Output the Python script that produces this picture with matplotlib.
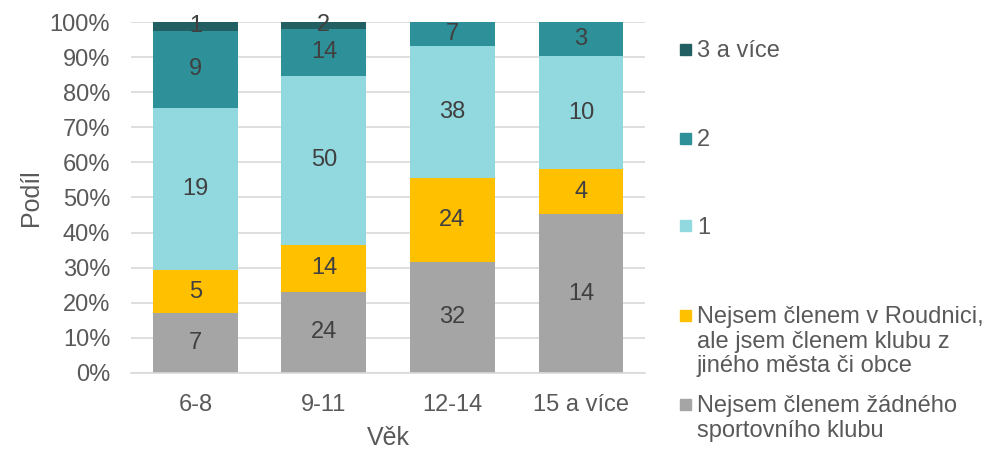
import matplotlib
matplotlib.use('Agg')
from matplotlib import pyplot as plt
from matplotlib.patches import Rectangle
import numpy as np

plt.rcParams['font.family'] = ['Liberation Sans', 'DejaVu Sans']

# kategorie a počty
vek = ['6-8', '9-11', '12-14', '15 a více']
zadny = [7, 24, 32, 14]
jiny_klub = [5, 14, 24, 4]
jeden = [19, 50, 38, 10]
dva = [9, 14, 7, 3]
tri_a_vice = [1, 2, 0, 0]

serie = [zadny, jiny_klub, jeden, dva, tri_a_vice]
nazvy = ['Nejsem členem žádného\nsportovního klubu',
         'Nejsem členem v Roudnici,\nale jsem členem klubu z\njiného města či obce',
         '1', '2', '3 a více']
barvy = ['#A5A5A5', '#FFC000', '#92D8DF', '#2E9098', '#215F63']

text_c = '#595959'
fs = 17

fig = plt.figure(figsize=(9.89, 4.49), dpi=100)
ax = fig.add_axes([0.1325, 0.1693, 0.520, 0.7817])

data = np.array(serie, dtype=float)
podil = data / data.sum(axis=0)
x = np.arange(len(vek))
dole = np.zeros(len(vek))
for i in range(len(serie)):
    ax.bar(x, podil[i], 0.66, bottom=dole, color=barvy[i], zorder=2)
    for j in range(len(vek)):
        if data[i, j] > 0:
            ax.text(x[j], dole[j] + podil[i, j] / 2, '%d' % data[i, j],
                    ha='center', va='center', fontsize=fs, color='#404040', zorder=3)
    dole += podil[i]

ax.set_xlim(-0.5, len(vek) - 0.5)
ax.set_ylim(0, 1)
ax.set_yticks(np.arange(0, 1.01, 0.1))
ax.set_yticklabels(['%d%%' % round(v * 100) for v in np.arange(0, 1.01, 0.1)])
ax.set_xticks(x)
ax.set_xticklabels(vek)
ax.yaxis.grid(True, color='#D9D9D9', linewidth=1.2, zorder=0)
ax.set_axisbelow(True)
for s in ['top', 'right', 'left']:
    ax.spines[s].set_visible(False)
ax.spines['bottom'].set_color('#D9D9D9')
ax.spines['bottom'].set_linewidth(1.2)
ax.tick_params(axis='both', length=0, labelsize=fs, colors=text_c)
ax.tick_params(axis='x', pad=15)
ax.tick_params(axis='y', pad=15)
ax.set_xlabel('Věk', fontsize=fs + 1, color=text_c, labelpad=7)
ax.set_ylabel('Podíl', fontsize=fs + 1, color=text_c, labelpad=5)

# legenda ručně (jako v Excelu)
W, H = 989.0, 449.0
leg_y = [404, 315, 226, 138, 49]
for i in range(len(serie)):
    yc = leg_y[i]
    fig.patches.append(Rectangle((680 / W, 1 - (yc + 5.5) / H), 11 / W, 11 / H,
                                 transform=fig.transFigure, color=barvy[i]))
    fig.text(697 / W, 1 - (yc - 9) / H, nazvy[i], ha='left', va='top',
             fontsize=fs, color=text_c, linespacing=1.15)

fig.savefig('out.png', dpi=100, facecolor='white')
